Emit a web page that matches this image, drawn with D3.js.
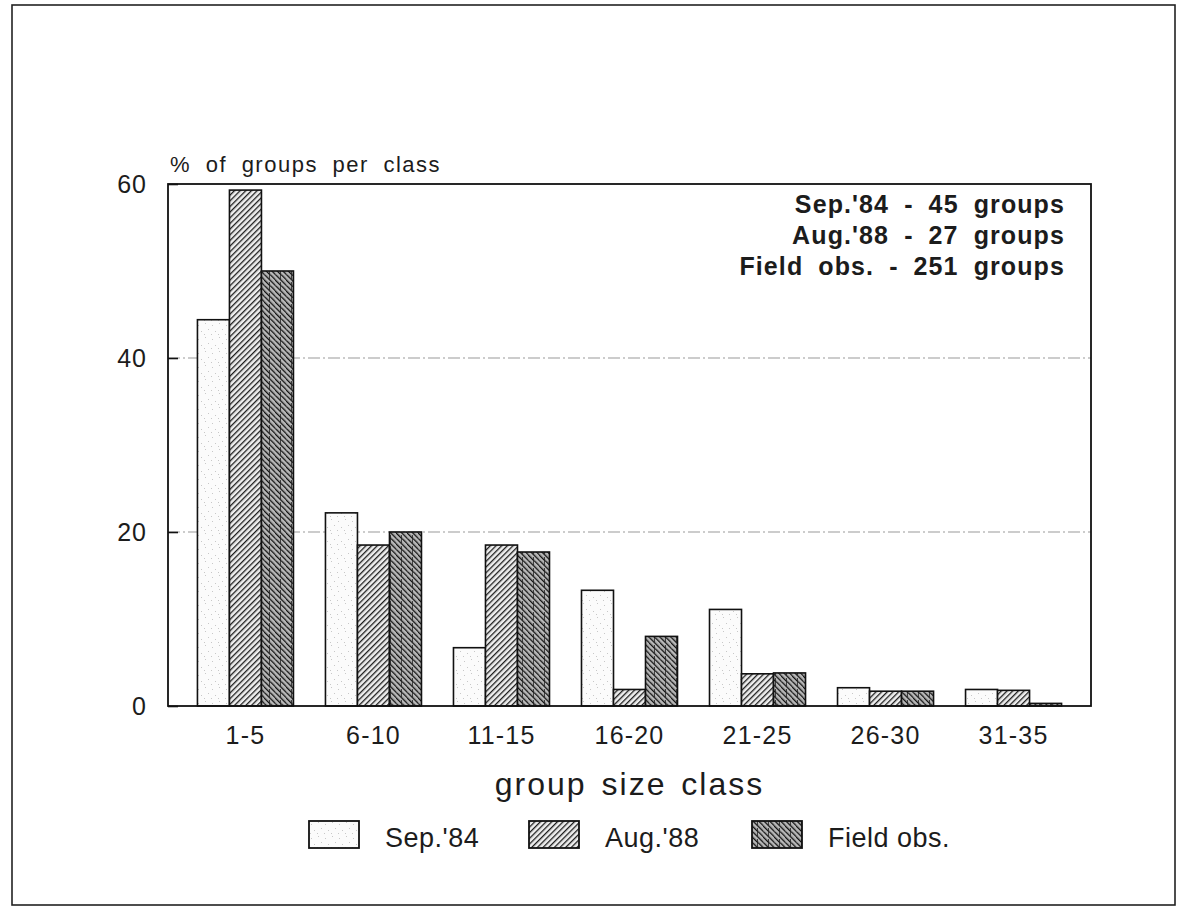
<!DOCTYPE html>
<html>
<head>
<meta charset="utf-8">
<script src="https://cdn.jsdelivr.net/npm/d3@7"></script>
<style>
  html, body { margin: 0; padding: 0; background: #ffffff; }
  svg { display: block; }
  text { font-family: "Liberation Sans", Arial, sans-serif; fill: #1c1c1c; }
</style>
</head>
<body>
<svg id="chart" width="1183" height="911"></svg>
<script>
// ---- data ----
const categories = ["1-5", "6-10", "11-15", "16-20", "21-25", "26-30", "31-35"];
const seriesNames = ["Sep.'84", "Aug.'88", "Field obs."];
const sep84    = [44.4, 22.2, 6.7, 13.3, 11.1, 2.1, 1.9];
const aug88    = [59.3, 18.5, 18.5, 1.9, 3.7, 1.7, 1.8];
const fieldObs = [50.0, 20.0, 17.7, 8.0, 3.8, 1.7, 0.3];
const yTicks = [0, 20, 40, 60];
const gridTicks = [20, 40];
const notes = ["Sep.'84 - 45 groups", "Aug.'88 - 27 groups", "Field obs. - 251 groups"];
const yTitle = "% of groups per class";
const xTitle = "group size class";

const seriesValues = [sep84, aug88, fieldObs];
const rows = [];
categories.forEach((c, i) => {
  seriesNames.forEach((s, j) => rows.push({ cat: c, series: s, value: seriesValues[j][i] }));
});

const svg = d3.select("#chart");
const plot = { left: 168, right: 1091, top: 184, bottom: 706 };

// ---- patterns ----
const defs = svg.append("defs");
// stipple for Sep.'84
const pStip = defs.append("pattern").attr("id", "stip").attr("patternUnits", "userSpaceOnUse")
  .attr("width", 14).attr("height", 14);
pStip.append("rect").attr("width", 14).attr("height", 14).attr("fill", "#fbfbfb");
[[2,3],[9,1],[5,9],[12,7],[1,12],[8,12]].forEach(([x,y]) =>
  pStip.append("rect").attr("x", x).attr("y", y).attr("width", 1).attr("height", 1).attr("fill", "#c8c8c8"));
// "/" hatching for Aug.'88
const pAug = defs.append("pattern").attr("id", "hatchAug").attr("patternUnits", "userSpaceOnUse")
  .attr("width", 4).attr("height", 4).attr("patternTransform", "rotate(45)");
pAug.append("rect").attr("width", 4).attr("height", 4).attr("fill", "#eeeeee");
pAug.append("line").attr("x1", 0).attr("y1", 0).attr("x2", 0).attr("y2", 4)
  .attr("stroke", "#1e1e1e").attr("stroke-width", 2.6);
// "\" hatching, darker, for Field obs.
const pFld = defs.append("pattern").attr("id", "hatchFld").attr("patternUnits", "userSpaceOnUse")
  .attr("width", 4).attr("height", 4).attr("patternTransform", "rotate(-45)");
pFld.append("rect").attr("width", 4).attr("height", 4).attr("fill", "#b8b8b8");
pFld.append("line").attr("x1", 0).attr("y1", 0).attr("x2", 0).attr("y2", 4)
  .attr("stroke", "#111").attr("stroke-width", 2.6);
const pFld2 = defs.append("pattern").attr("id", "hatchFld2").attr("patternUnits", "userSpaceOnUse")
  .attr("width", 11).attr("height", 11);
pFld2.append("rect").attr("width", 11).attr("height", 11).attr("fill", "url(#hatchFld)");
pFld2.append("line").attr("x1", 5.5).attr("y1", 0).attr("x2", 5.5).attr("y2", 11)
  .attr("stroke", "#222").attr("stroke-width", 0.8).attr("stroke-dasharray", "4,3");

const fills = { "Sep.'84": "url(#stip)", "Aug.'88": "url(#hatchAug)", "Field obs.": "url(#hatchFld2)" };

// ---- outer border ----
svg.append("rect").attr("x", 12).attr("y", 5).attr("width", 1163).attr("height", 900)
  .attr("fill", "none").attr("stroke", "#222").attr("stroke-width", 1.6);

// ---- scales ----
const x = d3.scaleBand().domain(categories).range([plot.left, plot.right])
  .paddingInner(0.25).paddingOuter(0.23);
const xs = d3.scaleBand().domain(seriesNames).range([0, x.bandwidth()]).padding(0);
const y = d3.scaleLinear().domain([0, 60]).range([plot.bottom, plot.top]);

// ---- grid lines ----
svg.append("g").selectAll("line").data(gridTicks).join("line")
  .attr("x1", plot.left).attr("x2", plot.right)
  .attr("y1", d => y(d)).attr("y2", d => y(d))
  .attr("stroke", "#999").attr("stroke-width", 1.1).attr("stroke-dasharray", "12,3,2,3");

// ---- bars ----
svg.append("g").selectAll("rect").data(rows).join("rect")
  .attr("x", d => x(d.cat) + xs(d.series))
  .attr("y", d => y(d.value))
  .attr("width", xs.bandwidth())
  .attr("height", d => y(0) - y(d.value))
  .attr("fill", d => fills[d.series])
  .attr("stroke", "#111").attr("stroke-width", 1.6);

// ---- frame ----
svg.append("rect").attr("x", plot.left).attr("y", plot.top)
  .attr("width", plot.right - plot.left).attr("height", plot.bottom - plot.top)
  .attr("fill", "none").attr("stroke", "#111").attr("stroke-width", 1.8);

// ---- y axis ----
const yAxis = d3.axisLeft(y).tickValues(yTicks).tickSize(-10).tickPadding(21).tickFormat(d3.format("d"));
const gy = svg.append("g").attr("transform", `translate(${plot.left},0)`).call(yAxis);
gy.select(".domain").remove();
gy.selectAll(".tick line").attr("stroke", "#111").attr("stroke-width", 1.6);
gy.selectAll(".tick text").attr("font-size", 25).attr("letter-spacing", 1)
  .attr("font-family", "'Liberation Sans', Arial, sans-serif").attr("fill", "#1c1c1c");

// ---- x axis ----
const xAxis = d3.axisBottom(x).tickSize(0).tickPadding(20);
const gx = svg.append("g").attr("transform", `translate(0,${plot.bottom})`).call(xAxis);
gx.select(".domain").remove();
gx.selectAll(".tick text").attr("font-size", 25).attr("letter-spacing", 1.2)
  .attr("font-family", "'Liberation Sans', Arial, sans-serif").attr("fill", "#1c1c1c");

// ---- titles ----
svg.append("text").attr("x", 170).attr("y", 172).attr("font-size", 22)
  .attr("letter-spacing", 1.5).attr("word-spacing", 7).text(yTitle);
svg.append("text").attr("x", (plot.left + plot.right) / 2).attr("y", 795)
  .attr("text-anchor", "middle").attr("font-size", 32)
  .attr("letter-spacing", 2).attr("word-spacing", 4).text(xTitle);

// ---- annotation ----
svg.append("g").selectAll("text").data(notes).join("text")
  .attr("x", 1065).attr("y", (d, i) => 213 + i * 31)
  .attr("text-anchor", "end").attr("font-size", 25).attr("font-weight", "bold")
  .attr("letter-spacing", 1.1).attr("word-spacing", 7)
  .text(d => d);

// ---- legend ----
const legX = [309, 529, 752];
const leg = svg.append("g").selectAll("g").data(seriesNames).join("g")
  .attr("transform", (d, i) => `translate(${legX[i]},821)`);
leg.append("rect").attr("width", 50).attr("height", 27)
  .attr("fill", d => fills[d]).attr("stroke", "#111").attr("stroke-width", 1.8);
leg.append("text").attr("x", 76).attr("y", 26).attr("font-size", 27)
  .attr("letter-spacing", 0.5).text(d => d);
</script>
</body>
</html>
